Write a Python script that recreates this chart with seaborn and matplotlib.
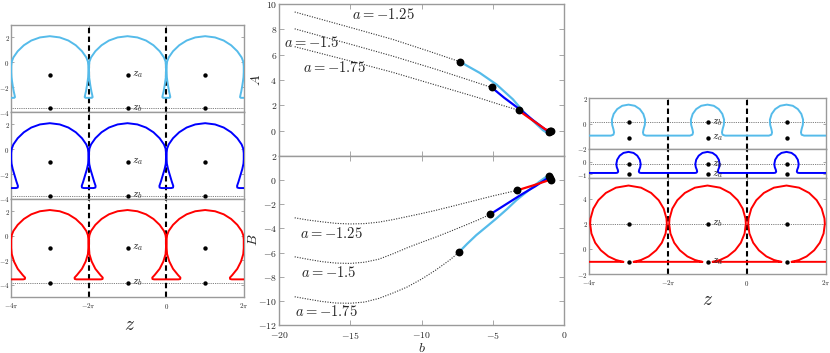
import matplotlib
matplotlib.use('Agg')
import matplotlib.pyplot as plt
import seaborn as sns
import numpy as np
import pandas as pd

PI = np.pi

# ---- left column: one half period of each free surface, measured from the bubble centre ----
left_lb_dx = [0, 0.8, 1.5, 2.1, 2.6, 2.95, 3.08, 3.12, 3.12, 3.1, 3.06, 3.0, 2.92, 2.85, 2.82, 2.88, PI]
left_lb_y = [2.1, 2.0, 1.75, 1.37, 0.89, 0.39, 0.05, -0.3, -0.8, -1.2, -1.5, -1.9, -2.35, -2.65, -2.8, -2.86, -2.86]
left_db_dx = [0, 0.8, 1.5, 2.1, 2.6, 2.95, 3.08, 3.12, 3.12, 3.1, 3.0, 2.85, 2.7, 2.58, 2.6, 2.75, PI]
left_db_y = [2.1, 2.0, 1.75, 1.37, 0.89, 0.39, 0.05, -0.3, -0.8, -1.15, -1.6, -2.1, -2.6, -2.95, -3.08, -3.12, -3.12]
left_rd_dx = [0, 0.8, 1.5, 2.1, 2.6, 2.95, 3.08, 3.12, 3.12, 3.08, 2.9, 2.6, 2.2, 2.0, 2.02, 2.15, PI]
left_rd_y = [2.1, 2.0, 1.75, 1.37, 0.89, 0.39, 0.05, -0.3, -1.0, -1.5, -2.1, -2.7, -3.2, -3.42, -3.53, -3.56, -3.56]
left_za = [-1.0, -1.0, -1.0]
left_zb = [-3.7, -3.76, -3.86]

# ---- right column ----
right_lb_dx = [0, 0.5, 0.9, 1.18, 1.32, 1.3, 1.2, 1.15, 1.2, 1.4, PI]
right_lb_y = [1.48, 1.39, 1.13, 0.75, 0.3, -0.1, -0.45, -0.7, -0.88, -0.95, -0.95]
right_db_dx = [0, 0.4, 0.7, 0.9, 0.97, 0.93, 0.85, 0.82, 0.88, 1.0, PI]
right_db_y = [0.77, 0.69, 0.47, 0.15, -0.2, -0.45, -0.65, -0.8, -0.88, -0.9, -0.9]
right_rd_dx = [0, 1.0, 1.8, 2.4, 2.8, 3.02, 3.05, 2.95, 2.65, 2.2, 1.6, 1.0, 0.6, 0.4, PI]
right_rd_y = [5.05, 4.88, 4.46, 3.88, 3.21, 2.42, 2.0, 1.23, 0.49, -0.11, -0.6, -0.88, -0.99, -1.03, -1.03]
right_za = [-1.1, -1.02, -1.04]
right_zb = [0.1, -0.2, 2.0]

centres = [-3 * PI, -PI, PI]

# ---- middle column: A(b) and B(b) ----
lb_A_b = [-7.32, -5.91, -4.74, -3.58, -2.88, -2.18, -1.48, -1.15, -1.0, -0.85]
lb_A = [5.45, 4.56, 3.65, 2.47, 1.55, 0.77, 0.04, -0.2, -0.25, -0.1]
db_A_b = [-5.07, -4.2, -3.11, -2.2, -1.5, -1.05]
db_A = [3.41, 2.6, 1.69, 0.85, 0.25, -0.1]
rd_A_b = [-3.2, -2.5, -1.8, -1.3, -0.95]
rd_A = [1.61, 1.05, 0.5, 0.1, 0.0]

lb_B_b = [-7.39, -6.8, -6.15, -5.4, -4.74, -4.0, -3.34, -2.7, -2.18, -1.7, -1.24, -1.05]
lb_B = [-5.99, -5.28, -4.55, -3.82, -3.17, -2.4, -1.66, -1.05, -0.55, -0.1, 0.28, 0.35]
db_B_b = [-5.19, -4.0, -3.0, -2.0, -1.05]
db_B = [-2.84, -1.95, -1.2, -0.5, 0.25]
rd_B_b = [-3.3, -2.2, -1.0]
rd_B = [-0.85, -0.45, 0.02]

# dotted continuation curves, a = -1.25, -1.5, -1.75
dotA_b = [[-18.9, -15, -12, -9.5, -7.32],
          [-18.9, -15, -12, -9, -7, -5.07],
          [-18.9, -15, -12, -9, -6, -4.5, -3.18]]
dotA = [[9.37, 8.15, 7.2, 6.28, 5.45],
        [8.04, 6.83, 5.88, 4.85, 4.12, 3.41],
        [6.63, 5.5, 4.6, 3.6, 2.6, 2.06, 1.61]]
dotB_b = [[-18.9, -18, -17, -16, -15, -14, -13, -12, -11, -10, -9, -8, -7, -6, -5, -4, -3.3],
          [-18.9, -18, -17, -16, -15, -14, -13, -12, -11, -10, -9, -8, -7, -6, -5.19],
          [-18.9, -18, -17, -16, -15, -14, -13, -12, -11, -10, -9, -8, -7.39]]
dotB = [[-3.12, -3.3, -3.45, -3.58, -3.63, -3.6, -3.48, -3.27, -3.02, -2.77, -2.5, -2.21, -1.91, -1.61, -1.31, -1.04, -0.85],
        [-6.35, -6.55, -6.75, -6.87, -6.9, -6.8, -6.55, -6.1, -5.6, -5.15, -4.72, -4.25, -3.77, -3.28, -2.84],
        [-9.66, -9.85, -10.05, -10.18, -10.2, -10.1, -9.8, -9.35, -8.85, -8.2, -7.45, -6.6, -5.99]]

dots_A_b = [-7.32, -5.07, -3.18, -0.98, -0.92, -1.03]
dots_A = [5.45, 3.41, 1.61, -0.02, -0.05, -0.12]
dots_B_b = [-7.39, -5.19, -3.3, -1.06, -1.0, -0.93]
dots_B = [-5.99, -2.84, -0.85, 0.33, 0.2, 0.0]

labels_a = ['$a = -1.25$', '$a = -1.5$', '$a = -1.75$']
labA_pos = [(-12.7, 9.14), (-17.7, 6.97), (-16.1, 4.95)]
labB_pos = [(-16.3, -4.42), (-16.5, -7.64), (-16.7, -10.85)]

LB, DB, RD = '#55bbea', '#0000ff', '#ff0000'
SPINE = '#9a9a9a'

sns.set_style('ticks')
plt.rcParams['mathtext.fontset'] = 'cm'
plt.rcParams['font.family'] = ['serif']
plt.rcParams['font.serif'] = ['cmr10', 'DejaVu Serif']
plt.rcParams['axes.unicode_minus'] = False

fig = plt.figure(figsize=(8.3, 3.53), dpi=100)


def box(x0, y0, x1, y1):
    return fig.add_axes([x0 / 830, 1 - y1 / 353, (x1 - x0) / 830, (y1 - y0) / 353])


def period_curve(dx, y):
    # mirror the half profile and repeat it over the three periods
    half_x = np.array(dx)
    half_y = np.array(y)
    px = np.concatenate([-half_x[::-1], half_x[1:]])
    py = np.concatenate([half_y[::-1], half_y[1:]])
    xs = np.concatenate([px + c for c in centres])
    ys = np.concatenate([py for c in centres])
    return pd.DataFrame({'x': xs, 'y': ys})


def style_axes(ax, fs):
    for s in ax.spines.values():
        s.set_color(SPINE)
        s.set_linewidth(1.0)
    ax.tick_params(direction='in', length=2.5, width=0.6, color=SPINE, labelsize=fs,
                   top=True, right=True, pad=1.0)


def surface_panel(ax, dx, y, color, za, zb, ylim, yticks, bottom):
    df = period_curve(dx, y)
    ax.axhline(zb, color='#555555', lw=0.6, ls=(0, (1, 1.2)), zorder=1)
    for xv in [-2 * PI, 0]:
        ax.axvline(xv, color='black', lw=1.5, ls=(0, (2.6, 1.6)), zorder=2)
    sns.lineplot(data=df, x='x', y='y', sort=False, estimator=None, color=color, lw=1.4, ax=ax, zorder=3)
    pts = pd.DataFrame({'x': centres * 2, 'y': [za] * 3 + [zb] * 3})
    sns.scatterplot(data=pts, x='x', y='y', color='black', s=10, linewidth=0, ax=ax, zorder=4)
    ax.text(-PI + 0.35, za, '$z_a$', fontsize=8, va='center', ha='left')
    ax.text(-PI + 0.35, zb, '$z_b$', fontsize=8, va='center', ha='left')
    ax.set_xlim(-4 * PI, 2 * PI)
    ax.set_ylim(*ylim)
    ax.set_yticks(yticks)
    ax.set_yticklabels(['$%d$' % t for t in yticks])
    ax.set_xticks([-4 * PI, -2 * PI, 0, 2 * PI])
    if bottom:
        ax.set_xticklabels(['$-4\\pi$', '$-2\\pi$', '$0$', '$2\\pi$'])
    else:
        ax.set_xticklabels([])
    ax.set_xlabel('')
    ax.set_ylabel('')
    style_axes(ax, 5)
    ax.tick_params(axis='x', pad=3.5)


# left column
axl = [box(11, 25, 244, 112), box(11, 112, 244, 199), box(11, 199, 244, 297)]
surface_panel(axl[0], left_lb_dx, left_lb_y, LB, left_za[0], left_zb[0], (-4, 3), [-4, -2, 0, 2], False)
surface_panel(axl[1], left_db_dx, left_db_y, DB, left_za[1], left_zb[1], (-4, 3), [-4, -2, 0, 2], False)
surface_panel(axl[2], left_rd_dx, left_rd_y, RD, left_za[2], left_zb[2], (-5, 3), [-4, -2, 0, 2], True)
fig.text(130 / 830, 1 - 325 / 353, '$z$', fontsize=14, ha='center', va='center')

# right column
axr = [box(589, 98, 826, 149), box(589, 149, 826, 178), box(589, 178, 826, 274)]
surface_panel(axr[0], right_lb_dx, right_lb_y, LB, right_za[0], right_zb[0], (-2, 2), [-2, 0, 2], False)
surface_panel(axr[1], right_db_dx, right_db_y, DB, right_za[1], right_zb[1], (-1.3, 1.0), [-1, 0], False)
surface_panel(axr[2], right_rd_dx, right_rd_y, RD, right_za[2], right_zb[2], (-2, 5.65), [-2, 0, 2, 4], True)
fig.text(708 / 830, 1 - 300 / 353, '$z$', fontsize=14, ha='center', va='center')

# middle column
axA = box(279, 4, 564, 156)
axB = box(279, 156, 564, 325)

for ax, dots_b, dots_v, dot_b, dot_v, curves, labpos in [
        (axA, dots_A_b, dots_A, dotA_b, dotA,
         [(lb_A_b, lb_A, LB), (db_A_b, db_A, DB), (rd_A_b, rd_A, RD)], labA_pos),
        (axB, dots_B_b, dots_B, dotB_b, dotB,
         [(lb_B_b, lb_B, LB), (db_B_b, db_B, DB), (rd_B_b, rd_B, RD)], labB_pos)]:
    for xb, yv in zip(dot_b, dot_v):
        sns.lineplot(x=xb, y=yv, sort=False, estimator=None, color='#333333', lw=0.8,
                     ls=(0, (1, 1.3)), ax=ax)
    for xb, yv, c in curves:
        sns.lineplot(x=xb, y=yv, sort=False, estimator=None, color=c, lw=1.6, ax=ax)
    sns.scatterplot(x=dots_b, y=dots_v, color='black', s=32, linewidth=0, ax=ax, zorder=5)
    for lab, (bx, by) in zip(labels_a, labpos):
        ax.text(bx, by, lab, fontsize=10.5, ha='center', va='center')
    ax.set_xlim(-20, 0)
    ax.set_xticks([-20, -15, -10, -5, 0])
    style_axes(ax, 7)
    ax.tick_params(length=3.5, pad=1.5)
    ax.tick_params(axis='x', pad=3.5)

axA.set_ylim(-2, 10)
axA.set_yticks([0, 2, 4, 6, 8, 10])
axA.set_yticklabels(['$%d$' % t for t in [0, 2, 4, 6, 8, 10]])
axA.set_xticklabels([])
axB.set_ylim(-12, 2)
axB.set_yticks([-12, -10, -8, -6, -4, -2, 0, 2])
axB.set_yticklabels(['$%d$' % t for t in [-12, -10, -8, -6, -4, -2, 0, 2]])
axB.set_xticklabels(['$%d$' % t for t in [-20, -15, -10, -5, 0]])
fig.text(256 / 830, 1 - 80 / 353, '$A$', fontsize=10, rotation=90, ha='center', va='center')
fig.text(253 / 830, 1 - 240 / 353, '$B$', fontsize=10, rotation=90, ha='center', va='center')
fig.text(422 / 830, 1 - 348 / 353, '$b$', fontsize=10, ha='center', va='center')

fig.savefig('out.png', dpi=100)
